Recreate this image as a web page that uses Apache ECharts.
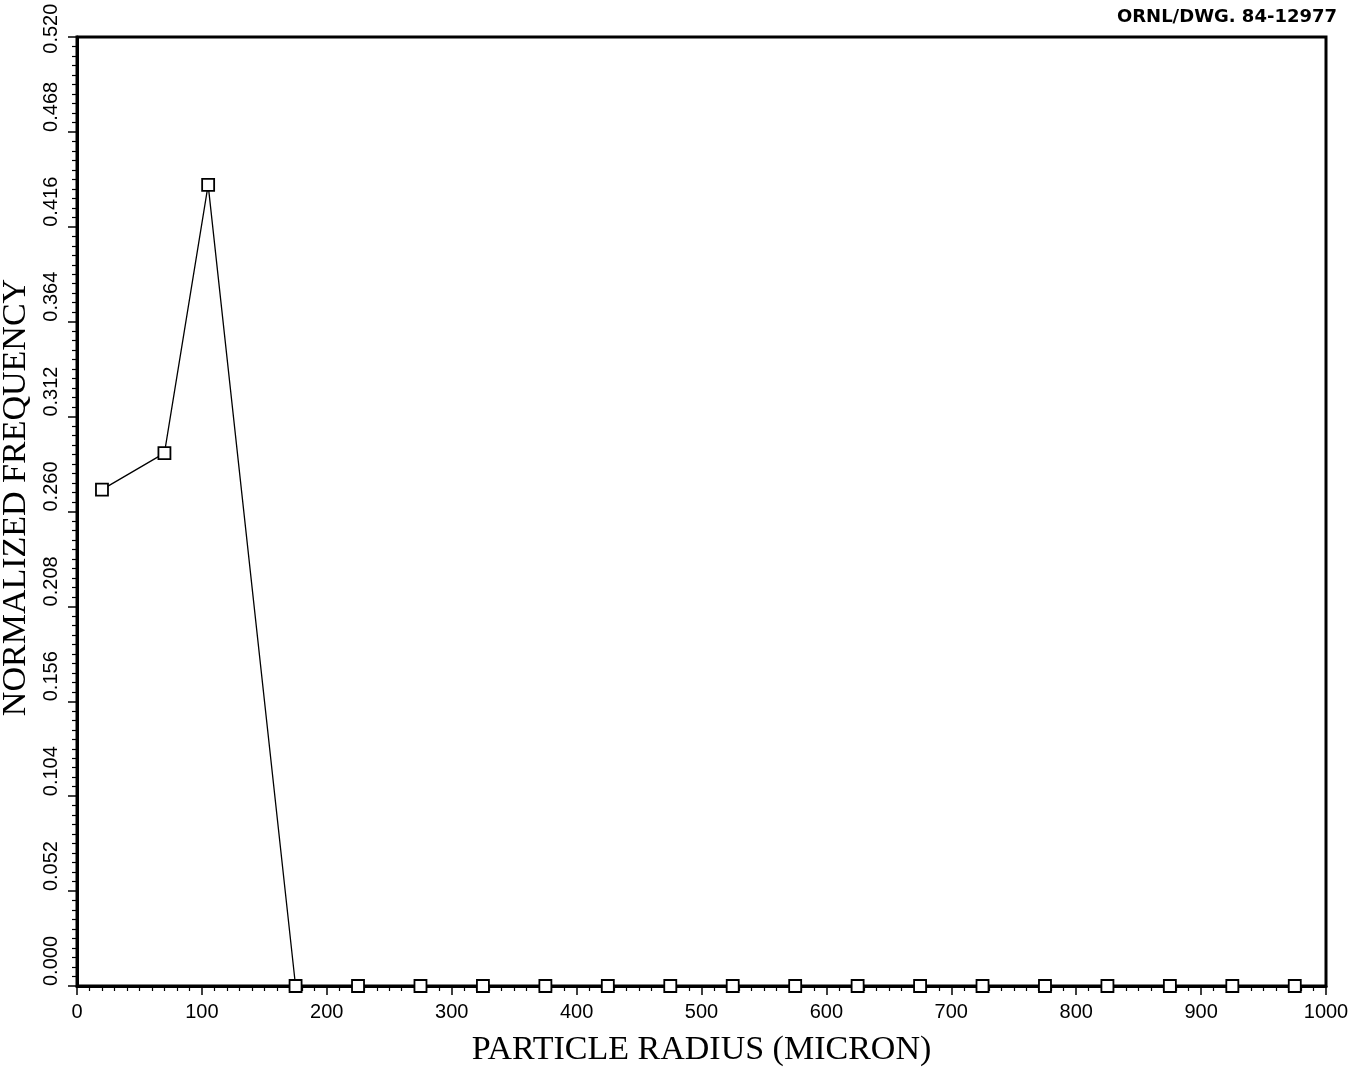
<!DOCTYPE html>
<html>
<head>
<meta charset="utf-8">
<script src="https://cdn.jsdelivr.net/npm/echarts@6/dist/echarts.min.js"></script>
<style>
html, body { margin: 0; padding: 0; background: #fff; }
#chart { width: 1352px; height: 1067px; }
</style>
</head>
<body>
<div id="chart"></div>
<script>
// particle radius (micron) and normalized frequency
var radius = [20, 70, 105, 175, 225, 275, 325, 375, 425, 475, 525, 575, 625, 675, 725, 775, 825, 875, 925, 975];
var freq = [0.272, 0.292, 0.439, 0, 0, 0, 0, 0, 0, 0, 0, 0, 0, 0, 0, 0, 0, 0, 0, 0];
var yTicks = ['0.000', '0.052', '0.104', '0.156', '0.208', '0.260', '0.312', '0.364', '0.416', '0.468', '0.520'];

var points = radius.map(function (r, i) { return [r, freq[i]]; });

function yLabel(v) {
    return yTicks[Math.round(v / 0.052)];
}

var myChart = echarts.init(document.getElementById('chart'));
var option = {
    backgroundColor: '#fff',
    animation: false,
    title: {
        text: 'ORNL/DWG. 84-12977',
        right: 10,
        top: 3,
        textStyle: { fontFamily: 'DejaVu Sans', fontWeight: 'bold', fontSize: 18, color: '#000' }
    },
    grid: {
        left: 77, right: 26, top: 37, bottom: 81,
        outerBoundsMode: 'none',
        containLabel: false,
        show: true, borderColor: '#000', borderWidth: 3, backgroundColor: 'transparent'
    },
    xAxis: {
        type: 'value',
        min: 0, max: 1000, interval: 100,
        name: 'PARTICLE RADIUS (MICRON)',
        nameLocation: 'middle',
        nameGap: 47,
        nameTextStyle: { fontFamily: 'Liberation Serif', fontSize: 34, color: '#000' },
        axisLine: { show: true, lineStyle: { color: '#000', width: 3 } },
        axisTick: { show: true, length: 9, lineStyle: { color: '#000', width: 1.5 } },
        minorTick: { show: true, splitNumber: 10, length: 5, lineStyle: { color: '#000', width: 1.2 } },
        axisLabel: {
            margin: 16, fontFamily: 'Liberation Sans', fontSize: 20, color: '#000',
            formatter: function (v) { return String(v); }
        },
        splitLine: { show: false }
    },
    yAxis: [{
        type: 'value',
        min: 0, max: 0.52, interval: 0.052,
        name: 'NORMALIZED FREQUENCY',
        nameLocation: 'middle',
        nameRotate: 90,
        nameGap: 29,
        nameTextStyle: { fontFamily: 'Liberation Serif', fontSize: 34, color: '#000', padding: [0, 0, 0, 28] },
        axisLine: { show: true, lineStyle: { color: '#000', width: 3 } },
        axisTick: { show: true, length: 9, lineStyle: { color: '#000', width: 1.5 } },
        minorTick: { show: true, splitNumber: 10, length: 5, lineStyle: { color: '#000', width: 1.2 } },
        axisLabel: {
            rotate: 90, margin: 16,
            align: 'left', verticalAlign: 'bottom',
            fontFamily: 'Liberation Sans', fontSize: 20, color: '#000',
            formatter: function (v) {
                return v >= 0.52 ? '' : yLabel(v);
            }
        },
        splitLine: { show: false }
    }, {
        // only carries the top label, which sits around its tick
        type: 'value',
        position: 'left',
        min: 0, max: 0.52, interval: 0.052,
        axisLine: { show: false },
        axisTick: { show: false },
        axisLabel: {
            rotate: 90, margin: 16,
            align: 'center', verticalAlign: 'bottom',
            fontFamily: 'Liberation Sans', fontSize: 20, color: '#000',
            formatter: function (v) {
                return v >= 0.52 ? '   ' + yLabel(v) : '';
            }
        },
        splitLine: { show: false }
    }],
    series: [{
        type: 'line',
        data: points,
        symbol: 'rect',
        symbolSize: 12,
        itemStyle: { color: '#fff', borderColor: '#000', borderWidth: 1.8 },
        lineStyle: { color: '#000', width: 1.3 },
        z: 5
    }]
};
myChart.setOption(option);

window.addEventListener('resize', function () {
    myChart.resize();
});
</script>
</body>
</html>
